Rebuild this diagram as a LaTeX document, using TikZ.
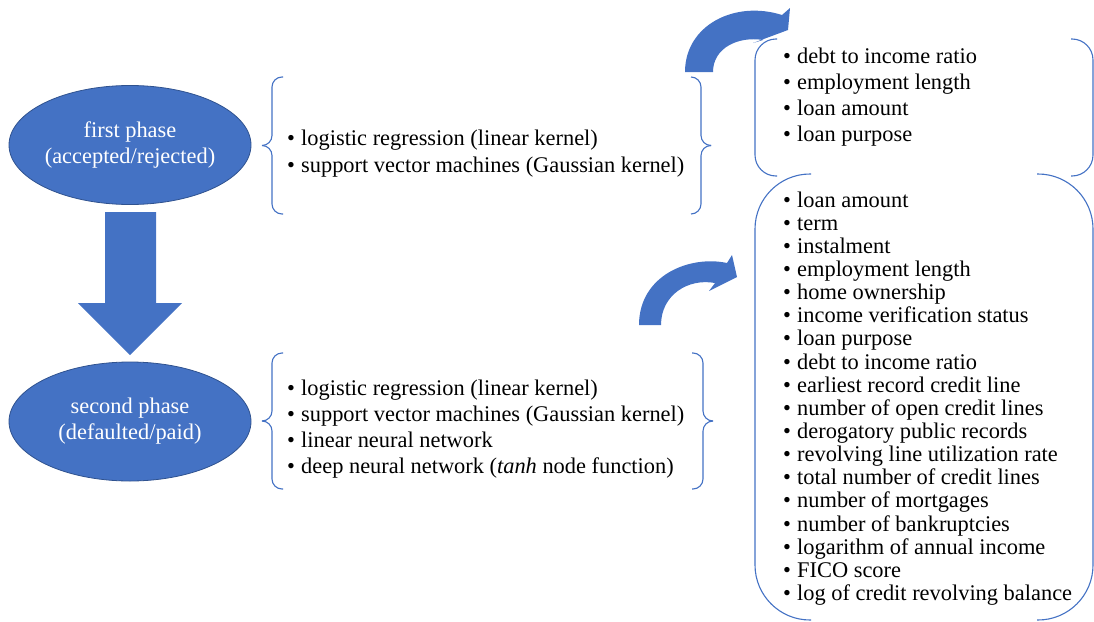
\documentclass[tikz,border=0pt]{standalone}
\usepackage{fontspec}
\setmainfont{Liberation Serif}
\usetikzlibrary{shapes.geometric}
\definecolor{obl}{HTML}{4472C4}
\definecolor{obd}{HTML}{2F528F}
\newcommand{\itemdot}{\makebox[14pt][l]{•}}
\begin{document}
\begin{tikzpicture}[x=1pt,y=-1pt,
  item/.style={anchor=base west, inner sep=0pt, font=\fontsize{22.4}{24}\selectfont},
  phase/.style={ellipse, fill=obl, draw=obd, line width=0.8pt, minimum width=242pt,
    minimum height=119pt, text=white, align=center, inner sep=0pt,
    font=\fontsize{22.4}{26}\selectfont},
  brk/.style={draw=obl, line width=1.1pt},
  fat/.style={fill=obl, draw=obd, line width=0.3pt}]
\useasboundingbox (0,0) rectangle (1094,621);

% phases
\node[phase] (p1) at (130,145) {first phase\\(accepted/rejected)};
\node[phase] (p2) at (130,421.5) {second phase\\(defaulted/paid)};

% down block arrow
\fill[obl] (105,212) -- (156,212) -- (156,303) -- (182,303) -- (130,355) -- (78,303) -- (105,303) -- cycle;

% brace pair 1
\draw[brk, rounded corners=10pt] (283,77) -- (272,77) -- (272,145.5) -- (262,145.5);
\draw[brk, rounded corners=10pt] (262,145.5) -- (272,145.5) -- (272,214) -- (283,214);
\draw[brk, rounded corners=10pt] (691,77) -- (701,77) -- (701,145.5) -- (710,145.5);
\draw[brk, rounded corners=10pt] (710,145.5) -- (701,145.5) -- (701,214) -- (691,214);

% brace pair 2
\draw[brk, rounded corners=10pt] (283,353) -- (272,353) -- (272,421) -- (262,421);
\draw[brk, rounded corners=10pt] (262,421) -- (272,421) -- (272,489) -- (283,489);
\draw[brk, rounded corners=10pt] (692,353) -- (703,353) -- (703,421) -- (713,421);
\draw[brk, rounded corners=10pt] (713,421) -- (703,421) -- (703,489) -- (692,489);

% bracket pair 1
\draw[brk, rounded corners=21pt] (777,39) -- (755,39) -- (755,176) -- (777,176);
\draw[brk, rounded corners=21pt] (1071,39) -- (1093,39) -- (1093,176) -- (1071,176);

% bracket pair 2
\draw[brk, rounded corners=55pt] (811,174) -- (755,174) -- (755,620) -- (811,620);
\draw[brk, rounded corners=55pt] (1037,174) -- (1093,174) -- (1093,620) -- (1037,620);

% curved arrows
\fill[obl] (685,72) .. controls (685,25) and (735,0) .. (782,15) -- (790,8) -- (788,30)
  -- (753,43) -- (763,40) .. controls (738,36) and (713,48) .. (713,72) -- cycle;
\fill[obl] (639,325) .. controls (639,275) and (690,255) .. (727,263) -- (732,255) -- (737,277)
  -- (709,291) -- (715,283) .. controls (688,278) and (661,295) .. (661,325) -- cycle;

% method lists
\node[item] (a1) at (287,145) {\itemdot logistic regression (linear kernel)};
\node[item] (a2) at (287,172) {\itemdot support vector machines (Gaussian kernel)};

\node[item] (b1) at (287,395) {\itemdot logistic regression (linear kernel)};
\node[item] (b2) at (287,421) {\itemdot support vector machines (Gaussian kernel)};
\node[item] (b3) at (287,447) {\itemdot linear neural network};
\node[item] (b4) at (287,473) {\itemdot deep neural network (\textit{tanh} node function)};

% feature lists
\node[item] (f1) at (783,63) {\itemdot debt to income ratio};
\node[item] (f2) at (783,89) {\itemdot employment length};
\node[item] (f3) at (783,115) {\itemdot loan amount};
\node[item] (f4) at (783,141) {\itemdot loan purpose};

\foreach \t [count=\i from 0] in {loan amount, term, instalment, employment length,
  home ownership, income verification status, loan purpose, debt to income ratio,
  earliest record credit line, number of open credit lines, derogatory public records,
  revolving line utilization rate, total number of credit lines, number of mortgages,
  number of bankruptcies, logarithm of annual income, FICO score,
  log of credit revolving balance}
  \node[item] (g\i) at (783,{207+23.15*\i}) {\itemdot \t};
\end{tikzpicture}
\end{document}
